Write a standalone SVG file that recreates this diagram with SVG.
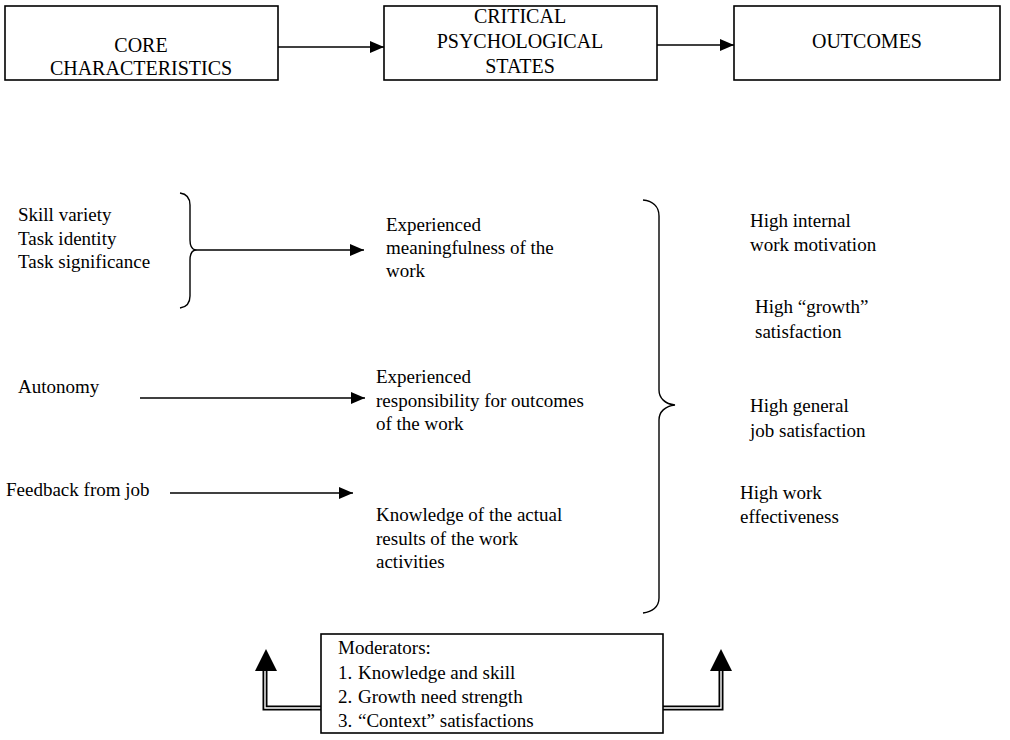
<svg xmlns="http://www.w3.org/2000/svg" width="1010" height="740" viewBox="0 0 1010 740">
  <style>
    .hd, .tx { font-family: "Liberation Serif", "DejaVu Serif", serif; fill: #000; }
    .box { fill: #fff; stroke: #000; stroke-width: 1.6; }
    .hd { font-size: 20px; text-anchor: middle; }
    .tx { font-size: 19px; }
    .ln { fill: none; stroke: #000; stroke-width: 1.6; }
    .br { fill: none; stroke: #000; stroke-width: 1.4; }
    .dbl-o { fill: none; stroke: #000; stroke-width: 5; }
    .dbl-i { fill: none; stroke: #fff; stroke-width: 1.4; }
  </style>
  <defs>
    <marker id="ah" markerUnits="userSpaceOnUse" markerWidth="14" markerHeight="12" refX="14" refY="6" orient="auto">
      <path d="M0,0 L14,6 L0,12 z" fill="#000"/>
    </marker>
  </defs>
  <rect width="1010" height="740" fill="#fff"/>

  <g id="connectors">
    <line class="ln" x1="278" y1="47" x2="384" y2="47" marker-end="url(#ah)"/>
    <line class="ln" x1="657" y1="45" x2="734" y2="45" marker-end="url(#ah)"/>
    <line class="ln" x1="195" y1="250" x2="364" y2="250" marker-end="url(#ah)"/>
    <line class="ln" x1="140" y1="398" x2="365" y2="398" marker-end="url(#ah)"/>
    <line class="ln" x1="170" y1="493" x2="353" y2="493" marker-end="url(#ah)"/>
    <path class="dbl-o" d="M265,670 L265,708 L321,708"/>
    <path class="dbl-i" d="M265,670 L265,708 L321,708"/>
    <polygon points="266,649 277,671 255,671" fill="#000"/>
    <path class="dbl-o" d="M662,708 L721,708 L721,670"/>
    <path class="dbl-i" d="M662,708 L721,708 L721,670"/>
    <polygon points="721,649 732,671 710,671" fill="#000"/>
  </g>

  <g id="braces">
    <path class="br" d="M180,193 C187,194 190,198 190,205 L190,240 C190,246 192,249 195,250 C192,251 190,254 190,260 L190,296 C190,303 187,307 180,308"/>
    <path class="br" d="M643,200 C652,201 659,206 659,216 L659,390 C659,398 665,404 675,405 C665,406 659,412 659,420 L659,598 C659,607 652,612 643,613"/>
  </g>

  <g id="core">
    <rect class="box" x="5" y="6" width="273" height="74"/>
    <text class="hd" x="141" y="52">CORE</text>
    <text class="hd" x="141" y="75">CHARACTERISTICS</text>
  </g>
  <g id="states">
    <rect class="box" x="384" y="6" width="273" height="74"/>
    <text class="hd" x="520" y="23">CRITICAL</text>
    <text class="hd" x="520" y="48">PSYCHOLOGICAL</text>
    <text class="hd" x="520" y="73">STATES</text>
  </g>
  <g id="outcomes">
    <rect class="box" x="734" y="6" width="266" height="74"/>
    <text class="hd" x="867" y="48">OUTCOMES</text>
  </g>

  <g id="skills">
    <text class="tx" x="18" y="221">Skill variety</text>
    <text class="tx" x="18" y="245">Task identity</text>
    <text class="tx" x="18" y="268">Task significance</text>
  </g>
  <g id="autonomy">
    <text class="tx" x="18" y="393">Autonomy</text>
  </g>
  <g id="feedback">
    <text class="tx" x="6" y="496">Feedback from job</text>
  </g>

  <g id="meaningfulness">
    <text class="tx" x="386" y="231">Experienced</text>
    <text class="tx" x="386" y="254">meaningfulness of the</text>
    <text class="tx" x="386" y="277">work</text>
  </g>
  <g id="responsibility">
    <text class="tx" x="376" y="383">Experienced</text>
    <text class="tx" x="376" y="407">responsibility for outcomes</text>
    <text class="tx" x="376" y="430">of the work</text>
  </g>
  <g id="knowledge">
    <text class="tx" x="376" y="521">Knowledge of the actual</text>
    <text class="tx" x="376" y="545">results of the work</text>
    <text class="tx" x="376" y="568">activities</text>
  </g>

  <g id="motivation">
    <text class="tx" x="750" y="227">High internal</text>
    <text class="tx" x="750" y="251">work motivation</text>
  </g>
  <g id="growth">
    <text class="tx" x="755" y="313">High “growth”</text>
    <text class="tx" x="755" y="338">satisfaction</text>
  </g>
  <g id="general">
    <text class="tx" x="750" y="412">High general</text>
    <text class="tx" x="750" y="437">job satisfaction</text>
  </g>
  <g id="effectiveness">
    <text class="tx" x="740" y="499">High work</text>
    <text class="tx" x="740" y="523">effectiveness</text>
  </g>

  <g id="moderators">
    <rect class="box" x="321" y="634" width="342" height="99"/>
    <text class="tx" x="338" y="654">Moderators:</text>
    <text class="tx" x="338" y="679">1.</text>
    <text class="tx" x="358" y="679">Knowledge and skill</text>
    <text class="tx" x="338" y="703">2.</text>
    <text class="tx" x="358" y="703">Growth need strength</text>
    <text class="tx" x="338" y="727">3.</text>
    <text class="tx" x="358" y="727">“Context” satisfactions</text>
  </g>
</svg>
